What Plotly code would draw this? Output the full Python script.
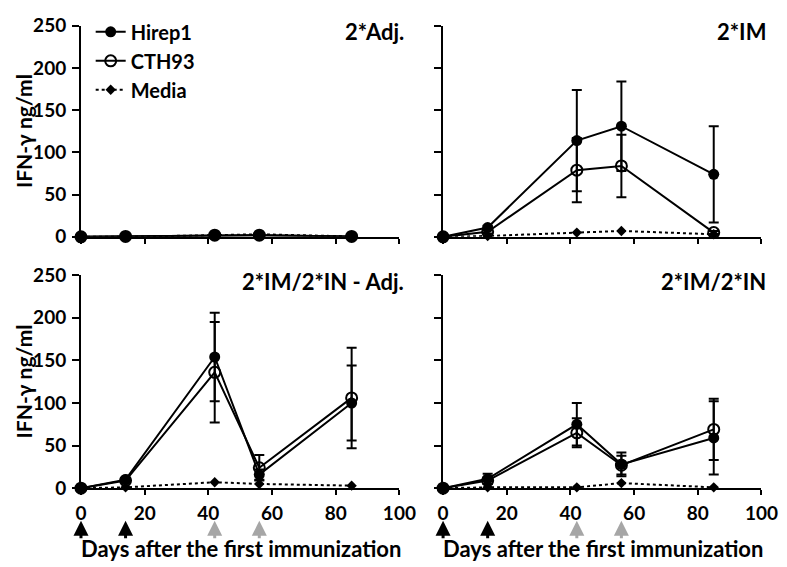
import plotly.graph_objects as go

# ---------------- data ----------------
days = [0, 14, 42, 56, 85]
panel_titles = ["2*Adj.", "2*IM", "2*IM/2*IN - Adj.", "2*IM/2*IN"]
x_ticks = [0, 20, 40, 60, 80, 100]
y_ticks = [0, 50, 100, 150, 200, 250]
immunization_days = [0, 14, 42, 56]
immunization_kind = ["IM", "IM", "IN", "IN"]

hirep1_adj = [0, 0.5, 2, 2, 0.5]
hirep1_adj_err = [0, 0, 0.5, 0.5, 0]
hirep1_im = [0, 11, 114, 131, 74]
hirep1_im_err = [0, 2, 60, 53, 57]
hirep1_imin_adj = [0, 10, 154, 16, 100]
hirep1_imin_adj_err = [0, 2, 52, 6, 44]
hirep1_imin = [0, 11, 75, 28, 59]
hirep1_imin_err = [0, 6, 25, 14, 43]

cth93_adj = [0, 0.5, 2, 2, 0.5]
cth93_adj_err = [0, 0, 0.5, 0.5, 0]
cth93_im = [0, 6, 79, 84, 5]
cth93_im_err = [0, 2, 38, 37, 2]
cth93_imin_adj = [0, 9, 136, 24, 106]
cth93_imin_adj_err = [0, 2, 59, 15, 59]
cth93_imin = [0, 9, 65, 27, 69]
cth93_imin_err = [0, 4, 17, 11, 36]

media_adj = [0, 0, 2, 3, 0.5]
media_im = [0, 1, 5, 7, 3]
media_imin_adj = [0, 1, 7, 5, 3]
media_imin = [0, 1, 1, 6, 1]

hirep1_sets = [(hirep1_adj, hirep1_adj_err), (hirep1_im, hirep1_im_err),
               (hirep1_imin_adj, hirep1_imin_adj_err), (hirep1_imin, hirep1_imin_err)]
cth93_sets = [(cth93_adj, cth93_adj_err), (cth93_im, cth93_im_err),
              (cth93_imin_adj, cth93_imin_adj_err), (cth93_imin, cth93_imin_err)]
media_sets = [media_adj, media_im, media_imin_adj, media_imin]

# ---------------- layout geometry ----------------
W, H = 787, 567
FONT = "Lato"
x_domains = [[69 / W, 397 / W], [442 / W, 770 / W], [69 / W, 397 / W], [442 / W, 770 / W]]
y_domains = [[1 - 226 / H, 1 - 6 / H], [1 - 226 / H, 1 - 6 / H],
             [1 - 488 / H, 1 - 266 / H], [1 - 488 / H, 1 - 266 / H]]

fig = go.Figure()

for i in range(4):
    xa = "x" if i == 0 else f"x{i+1}"
    ya = "y" if i == 0 else f"y{i+1}"
    show = i == 0
    m_vals = media_sets[i]
    fig.add_trace(go.Scatter(
        x=days, y=m_vals, xaxis=xa, yaxis=ya, name="Media", legendrank=3,
        mode="lines+markers", showlegend=show, cliponaxis=False,
        line=dict(color="black", width=2, dash="dot"),
        marker=dict(symbol="diamond", size=8, color="black")))
    c_vals, c_err = cth93_sets[i]
    fig.add_trace(go.Scatter(
        x=days, y=c_vals, xaxis=xa, yaxis=ya, name="CTH93", legendrank=2,
        mode="lines+markers", showlegend=show, cliponaxis=False,
        line=dict(color="black", width=2),
        marker=dict(symbol="circle-open", size=11, color="black", line=dict(width=2)),
        error_y=dict(type="data", array=c_err, color="black", thickness=2, width=5)))
    h_vals, h_err = hirep1_sets[i]
    fig.add_trace(go.Scatter(
        x=days, y=h_vals, xaxis=xa, yaxis=ya, name="Hirep1", legendrank=1,
        mode="lines+markers", showlegend=show, cliponaxis=False,
        line=dict(color="black", width=2),
        marker=dict(symbol="circle", size=11, color="black"),
        error_y=dict(type="data", array=h_err, color="black", thickness=2, width=5)))

axis_common = dict(showgrid=False, zeroline=False, showline=True, linecolor="black",
                   linewidth=2, ticks="outside", tickcolor="black", tickwidth=2)
layout = dict(
    width=W, height=H, plot_bgcolor="white", paper_bgcolor="white",
    margin=dict(l=0, r=0, t=0, b=0),
    font=dict(family=FONT, size=19, color="black", weight="bold"),
    legend=dict(x=79 / W, y=1 + 8 / H, xanchor="left", yanchor="top",
                bgcolor="rgba(0,0,0,0)", font=dict(size=20, family=FONT, weight="bold"),
                itemwidth=30, tracegroupgap=0, traceorder="normal"),
)
for i in range(4):
    key = "" if i == 0 else str(i + 1)
    bottom = i >= 2
    left = i % 2 == 0
    layout[f"xaxis{key}"] = dict(
        axis_common, domain=x_domains[i], range=[0, 100], tickvals=x_ticks,
        ticklen=5, showticklabels=bottom, anchor=f"y{key}", ticklabelstandoff=2,
        tickfont=dict(size=19, family=FONT, weight="bold"))
    layout[f"yaxis{key}"] = dict(
        axis_common, domain=y_domains[i], range=[0, 250], tickvals=y_ticks,
        ticklen=7, showticklabels=left, anchor=f"x{key}", ticklabelstandoff=2,
        tickfont=dict(size=19, family=FONT, weight="bold"))
fig.update_layout(**layout)

# panel titles
for i, t in enumerate(panel_titles):
    key = "" if i == 0 else str(i + 1)
    fig.add_annotation(text=t, xref=f"x{key} domain", yref=f"y{key} domain",
                       x=1.0, y=1.0, xanchor="right", yanchor="middle", showarrow=False,
                       xshift=7, yshift=-6,
                       font=dict(size=22, family=FONT, weight="bold"))

# y-axis titles
for i in (0, 2):
    fig.add_annotation(text="IFN-γ ng/ml", xref="paper", yref="paper",
                       x=10 / W, y=sum(y_domains[i]) / 2, textangle=-90,
                       xanchor="center", yanchor="middle", showarrow=False,
                       font=dict(size=21, family=FONT, weight="bold"))

# x-axis titles
for i in (2, 3):
    fig.add_annotation(text="Days after the first immunization", xref="paper", yref="paper",
                       x=(sum(x_domains[i]) / 2) + 1 / W, y=1 - 551 / H, xanchor="center",
                       yanchor="middle", showarrow=False,
                       font=dict(size=22, family=FONT, weight="bold"))

# immunization arrows
for i in (2, 3):
    key = str(i + 1)
    for d, kind in zip(immunization_days, immunization_kind):
        col = "black" if kind == "IM" else "#a6a6a6"
        fig.add_annotation(x=d, y=1 - 522 / H, xref=f"x{key}", yref="paper",
                           text="", showarrow=True, ax=0, ay=19, axref="pixel",
                           arrowhead=2, arrowsize=1.0, arrowwidth=3, arrowcolor=col)

fig.write_html("out.html")
